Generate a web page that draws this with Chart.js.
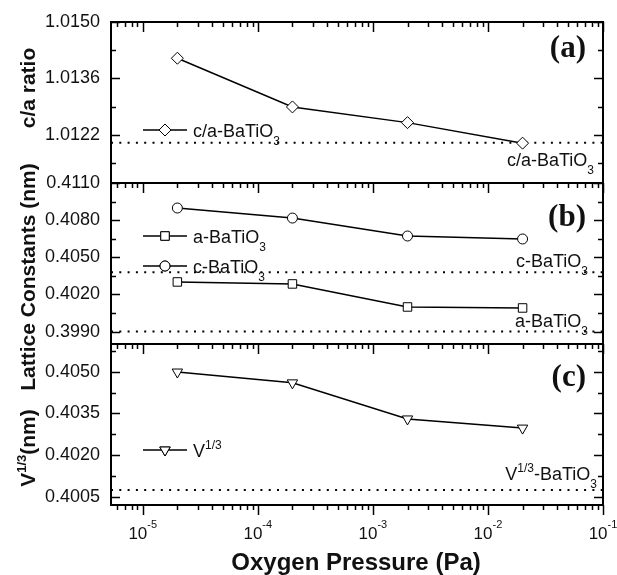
<!DOCTYPE html>
<html>
<head>
<meta charset="utf-8">
<script src="https://cdn.jsdelivr.net/npm/chart.js@4.4.0/dist/chart.umd.min.js"></script>
<style>
  body { margin: 0; background: #fff; }
  canvas { display: block; }
</style>
</head>
<body>
<canvas id="chart" width="617" height="575"></canvas>
<script>
// oxygen pressure of the four films (Pa)
const pressures = [2e-5, 2e-4, 2e-3, 2e-2];
// measured values
const caRatio = [1.0141, 1.01289, 1.0125, 1.01199];
const aConst = [0.40301, 0.40285, 0.40099, 0.40091];
const cConst = [0.40898, 0.40817, 0.40672, 0.40648];
const vRoot = [0.40499, 0.4046, 0.4033, 0.40297];
// bulk BaTiO3 values (dotted lines)
const caBulk = 1.0120;
const cBulk = 0.4038;
const aBulk = 0.3990;
const vBulk = 0.40074;
// tick labels
const xDecades = [-5, -4, -3, -2, -1];
const caTicks = [1.0122, 1.0136, 1.0150];
const latTicks = [0.3990, 0.4020, 0.4050, 0.4080, 0.4110];
const vTicks = [0.4005, 0.4020, 0.4035, 0.4050];

const xMin = 5.3e-6, xMax = 0.1;
const sans = '"Liberation Sans", Arial, sans-serif';

function pts(ys) {
  return pressures.map((p, i) => ({ x: p, y: ys[i] }));
}
function refLine(v) {
  return [{ x: xMin, y: v }, { x: xMax, y: v }];
}

// draws text pieces (normal / sub / sup) one after the other
function drawRich(ctx, parts, x, y, align, weight) {
  let w = 0;
  parts.forEach(p => {
    ctx.font = weight + ' ' + p[1] + 'px ' + sans;
    w += ctx.measureText(p[0]).width;
  });
  let cx = align === 'right' ? x - w : align === 'center' ? x - w / 2 : x;
  ctx.textAlign = 'left';
  ctx.textBaseline = 'alphabetic';
  parts.forEach(p => {
    ctx.font = weight + ' ' + p[1] + 'px ' + sans;
    ctx.fillText(p[0], cx, y + p[2]);
    cx += ctx.measureText(p[0]).width;
  });
}

function minorsOf(ticks, min, max) {
  const step = ticks[1] - ticks[0];
  const out = [];
  for (let v = ticks[0] - step / 2; v < max; v += step) {
    if (v > min) out.push(v);
  }
  return out;
}

const frame = {
  id: 'frame',
  afterDraw(chart) {
    const ctx = chart.ctx;
    const area = chart.chartArea;
    const xs = chart.scales.x;
    const panels = [
      [chart.scales.ya, caTicks],
      [chart.scales.yb, latTicks],
      [chart.scales.yc, vTicks]
    ];
    ctx.save();
    ctx.strokeStyle = '#000';
    ctx.fillStyle = '#111';

    // x ticks, pointing down from every panel edge
    ctx.lineWidth = 1.5;
    const edges = [chart.scales.ya.top, chart.scales.yb.top, chart.scales.yc.top, chart.scales.yc.bottom];
    for (let e = -6; e <= -1; e++) {
      for (let m = 1; m <= 9; m++) {
        const v = m * Math.pow(10, e);
        if (v < xMin || v > xMax * 1.0001) continue;
        const px = Math.round(xs.getPixelForValue(v)) + 0.5;
        const len = m === 1 ? 10 : 5;
        edges.forEach(y => {
          ctx.beginPath();
          ctx.moveTo(px, y);
          ctx.lineTo(px, y + len);
          ctx.stroke();
        });
        if (e === -1) break;
      }
    }

    // y ticks on both sides, inward
    panels.forEach(([s, ticks]) => {
      const draw = (v, len) => {
        const py = Math.round(s.getPixelForValue(v)) + 0.5;
        ctx.beginPath();
        ctx.moveTo(area.left, py);
        ctx.lineTo(area.left + len, py);
        ctx.moveTo(area.right, py);
        ctx.lineTo(area.right - len, py);
        ctx.stroke();
      };
      ticks.forEach(v => draw(v, 9));
      minorsOf(ticks, s.min, s.max).forEach(v => draw(v, 5));
    });

    // frame and panel borders
    ctx.lineWidth = 2;
    ctx.strokeRect(area.left, area.top, area.right - area.left, area.bottom - area.top);
    [chart.scales.yb.top, chart.scales.yc.top].forEach(y => {
      ctx.beginPath();
      ctx.moveTo(area.left, y);
      ctx.lineTo(area.right, y);
      ctx.stroke();
    });

    // x tick labels 10^n
    xDecades.forEach(e => {
      drawRich(ctx, [['10', 17, 0], [String(e), 11, -11]], xs.getPixelForValue(Math.pow(10, e)), 539, 'center', '');
    });

    // legends inside the panels
    const legend = (style, rot, r, y, parts) => {
      ctx.lineWidth = 1.5;
      ctx.beginPath();
      ctx.moveTo(143, y);
      ctx.lineTo(187, y);
      ctx.stroke();
      ctx.fillStyle = '#fff';
      ctx.lineWidth = 1;
      Chart.helpers.drawPoint(ctx, { pointStyle: style, rotation: rot, radius: r, borderWidth: 1 }, 165, y);
      ctx.fill();
      ctx.stroke();
      ctx.fillStyle = '#111';
      drawRich(ctx, parts, 193, y + 6.5, 'left', '');
    };
    legend('rectRot', 0, 6, 130, [['c/a-BaTiO', 18, 0], ['3', 12, 8]]);
    legend('rect', 0, 6, 236, [['a-BaTiO', 18, 0], ['3', 12, 8]]);
    legend('circle', 0, 5, 266, [['c-BaTiO', 18, 0], ['3', 12, 8]]);
    legend('triangle', 180, 6, 450, [['V', 18, 0], ['1/3', 12, -8]]);

    // bulk labels on the right
    drawRich(ctx, [['c/a-BaTiO', 18, 0], ['3', 12, 8]], 594, 166, 'right', '');
    drawRich(ctx, [['c-BaTiO', 18, 0], ['3', 12, 8]], 588, 267, 'right', '');
    drawRich(ctx, [['a-BaTiO', 18, 0], ['3', 12, 8]], 588, 327, 'right', '');
    drawRich(ctx, [['V', 18, 0], ['1/3', 12, -8], ['-BaTiO', 18, 0], ['3', 12, 8]], 597, 480, 'right', '');

    // panel letters
    ctx.font = 'bold 31px "Liberation Serif", "Times New Roman", serif';
    ctx.textAlign = 'right';
    ctx.fillText('(a)', 586, 57);
    ctx.fillText('(b)', 586, 226);
    ctx.fillText('(c)', 586, 386);

    // axis titles
    const yTitle = (parts, cy) => {
      ctx.save();
      ctx.translate(27, cy);
      ctx.rotate(-Math.PI / 2);
      drawRich(ctx, parts, 0, 7.5, 'center', 'bold');
      ctx.restore();
    };
    yTitle([['c/a ratio', 21, 0]], 88);
    yTitle([['Lattice Constants (nm)', 21, 0]], 277);
    yTitle([['V', 21, 0], ['1/3', 13, -9], ['(nm)', 21, 0]], 448);
    drawRich(ctx, [['Oxygen Pressure (Pa)', 24, 0]], 356, 570, 'center', 'bold');
    ctx.restore();
  }
};

function yAxis(min, max, ticks) {
  return {
    type: 'linear',
    position: 'left',
    stack: 'panels',
    stackWeight: 1,
    min: min,
    max: max,
    grid: { display: false, drawTicks: false },
    border: { display: false },
    afterBuildTicks: s => { s.ticks = ticks.map(v => ({ value: v })); },
    afterFit: s => { s.width = 111; },
    ticks: {
      autoSkip: false,
      padding: 11,
      color: '#111',
      font: { family: sans, size: 18 },
      callback: v => v.toFixed(4)
    }
  };
}

const lineStyle = {
  borderColor: '#000',
  borderWidth: 1.5,
  pointBackgroundColor: '#fff',
  pointBorderColor: '#000',
  pointBorderWidth: 1,
  fill: false
};
const dotted = {
  borderColor: '#000',
  borderWidth: 2,
  borderDash: [2, 6.3],
  pointRadius: 0,
  fill: false
};

new Chart(document.getElementById('chart'), {
  type: 'line',
  data: {
    datasets: [
      { ...lineStyle, label: 'c/a-BaTiO3', data: pts(caRatio), yAxisID: 'ya', pointStyle: 'rectRot', pointRadius: 6 },
      { ...lineStyle, label: 'a-BaTiO3', data: pts(aConst), yAxisID: 'yb', pointStyle: 'rect', pointRadius: 6 },
      { ...lineStyle, label: 'c-BaTiO3', data: pts(cConst), yAxisID: 'yb', pointStyle: 'circle', pointRadius: 5 },
      { ...lineStyle, label: 'V1/3', data: pts(vRoot), yAxisID: 'yc', pointStyle: 'triangle', pointRotation: 180, pointRadius: 6 },
      { ...dotted, label: 'c/a bulk', data: refLine(caBulk), yAxisID: 'ya' },
      { ...dotted, label: 'c bulk', data: refLine(cBulk), yAxisID: 'yb' },
      { ...dotted, label: 'a bulk', data: refLine(aBulk), yAxisID: 'yb' },
      { ...dotted, label: 'V bulk', data: refLine(vBulk), yAxisID: 'yc' }
    ]
  },
  options: {
    responsive: false,
    animation: false,
    devicePixelRatio: 1,
    layout: { padding: { top: 22, right: 14, left: 0, bottom: 0 } },
    plugins: { legend: { display: false }, tooltip: { enabled: false } },
    scales: {
      x: {
        type: 'logarithmic',
        min: xMin,
        max: xMax,
        grid: { display: false },
        border: { display: false },
        ticks: { display: false },
        afterFit: s => { s.height = 70; }
      },
      yc: yAxis(0.4002, 0.4060, vTicks),
      yb: yAxis(0.3980, 0.4110, latTicks),
      ya: yAxis(1.0110, 1.0150, caTicks)
    }
  },
  plugins: [frame]
});
</script>
</body>
</html>
